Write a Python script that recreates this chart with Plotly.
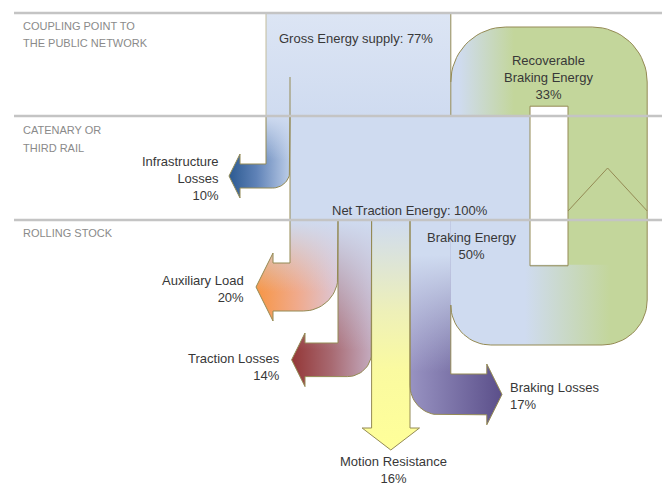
import numpy as np
import plotly.graph_objects as go

# ---------------- data ----------------
flow_names = ["Gross Energy supply", "Infrastructure Losses", "Recoverable Braking Energy",
              "Net Traction Energy", "Auxiliary Load", "Traction Losses",
              "Motion Resistance", "Braking Energy", "Braking Losses"]
flow_values = [77, 10, 33, 100, 20, 14, 16, 50, 17]
flow_label_lines = [["Gross Energy supply"], ["Infrastructure", "Losses"], ["Recoverable", "Braking Energy"],
                    ["Net Traction Energy"], ["Auxiliary Load"], ["Traction Losses"],
                    ["Motion Resistance"], ["Braking Energy"], ["Braking Losses"]]
pct_inline = [True, False, False, True, False, False, False, False, False]
section_labels = [["COUPLING POINT TO", "THE PUBLIC NETWORK"], ["CATENARY OR", "THIRD RAIL"], ["ROLLING STOCK"]]

# ---------------- geometry (pixel-like data space) ----------------
V = dict(zip(flow_names, flow_values))
K = 2.4                      # px per percent
SEP_Y = [13, 116, 220]
X_NET = 290
W = {n: V[n] * K for n in flow_names}

gx0 = X_NET - W["Infrastructure Losses"]
gx1 = gx0 + W["Gross Energy supply"]
nx1 = X_NET + W["Net Traction Energy"]
ax1 = X_NET + W["Auxiliary Load"]
tx1 = ax1 + W["Traction Losses"]
mx1 = tx1 + W["Motion Resistance"]
blx1 = mx1 + W["Braking Losses"]
hole_x0 = nx1
hole_x1 = hole_x0 + 38
rl_x1 = hole_x1 + W["Recoverable Braking Energy"]
loop_top = 27
loop_inner_top = loop_top + W["Recoverable Braking Energy"]
band_bot = 345
band_top = band_bot - W["Recoverable Braking Energy"]
R_TOP = 55
R_BR = 45
R_BL = 40

BLUE = "#cfdbf0"
GREEN = "#c3d69b"
OLIVE = "#948a54"
TXT = "#383838"
SEC = "#8a8a8a"
FONT = "Liberation Sans"


def arc(cx, cy, r, a0, a1, n=18):
    t = np.radians(np.linspace(a0, a1, n))
    return list(zip(cx + r * np.cos(t), cy + r * np.sin(t)))


fig = go.Figure()


def poly(pts, fill=None, grad=None):
    xs = [p[0] for p in pts] + [pts[0][0]]
    ys = [p[1] for p in pts] + [pts[0][1]]
    kw = dict(x=xs, y=ys, mode="lines", fill="toself", line=dict(width=0),
              hoverinfo="skip", showlegend=False)
    if grad is not None:
        kw["fillgradient"] = grad
    else:
        kw["fillcolor"] = fill
    fig.add_trace(go.Scatter(**kw))


def line(pts, color=OLIVE, width=1):
    fig.add_trace(go.Scatter(x=[p[0] for p in pts], y=[p[1] for p in pts], mode="lines",
                             line=dict(color=color, width=width), hoverinfo="skip", showlegend=False))


def hg(a, b, cs):
    return dict(type="horizontal", start=a, stop=b, colorscale=cs)


def vg(a, b, cs):
    return dict(type="vertical", start=a, stop=b, colorscale=cs)


def fade(a, b):
    return vg(a, b, [[0, "rgba(207,219,240,1)"], [1, "rgba(207,219,240,0)"]])


def bent_arrow(xl, xr, y0, ys, side, ext, e=10, hl=0.5, rr=0.72):
    wd = xr - xl
    yb = ys + wd
    r = rr * wd
    half = wd / 2 + e
    L = hl * half
    ym = ys + wd / 2
    if side == "left":
        xh = xl - ext
        pts = ([(xr, y0), (xr, yb - r)] + arc(xr - r, yb - r, r, 0, 90) +
               [(xh, yb), (xh, yb + e), (xh - L, ym), (xh, ys - e), (xh, ys), (xl, ys), (xl, y0)])
    else:
        xh = xr + ext
        pts = ([(xr, y0), (xr, ys), (xh, ys), (xh, ys - e), (xh + L, ym), (xh, yb + e), (xh, yb)] +
               arc(xl + r, yb - r, r, 90, 180) + [(xl, y0)])
    return pts


# gross supply block
poly([(gx0, SEP_Y[0]), (gx1, SEP_Y[0]), (gx1, SEP_Y[1]), (gx0, SEP_Y[1])],
     grad=vg(SEP_Y[0], SEP_Y[1], [[0, "#dce5f4"], [1, BLUE]]))
# net traction + braking energy block
poly([(X_NET, SEP_Y[1]), (nx1, SEP_Y[1]), (nx1, band_top), (mx1, band_top), (mx1, SEP_Y[2]), (X_NET, SEP_Y[2])],
     fill=BLUE)
# recoverable loop: upper part
U = ([(gx1, SEP_Y[1]), (gx1, loop_top + R_TOP)] + arc(gx1 + R_TOP, loop_top + R_TOP, R_TOP, 180, 270) +
     arc(rl_x1 - R_TOP, loop_top + R_TOP, R_TOP, 270, 360) +
     [(rl_x1, band_top), (hole_x1, band_top), (hole_x1, loop_inner_top), (hole_x0, loop_inner_top),
      (hole_x0, SEP_Y[1])])
poly(U, grad=hg(gx1, hole_x0, [[0, BLUE], [0.1, BLUE], [0.8, GREEN], [1, GREEN]]))
# recoverable loop: lower band
Lb = ([(blx1, band_top - 1), (rl_x1, band_top - 1), (rl_x1, band_bot - R_BR)] +
      arc(rl_x1 - R_BR, band_bot - R_BR, R_BR, 0, 90) + arc(blx1 + R_BL, band_bot - R_BL, R_BL, 90, 180))
poly(Lb, grad=hg(525, 625, [[0, BLUE], [0.85, GREEN], [1, GREEN]]))

# infrastructure losses arrow
infra = bent_arrow(gx0, X_NET, SEP_Y[1], 164, "left", 26)
poly(infra, grad=hg(229, X_NET, [[0, "#2c5a91"], [0.45, "#5f82b7"], [1, "#bccde8"]]))
poly(infra, grad=fade(SEP_Y[1], 160))
# auxiliary load arrow
aux = bent_arrow(X_NET, ax1, SEP_Y[2], 263, "left", 17)
poly(aux, grad=hg(257, ax1, [[0, "#f79646"], [0.5, "#f0aa8c"], [1, "#dcc6d6"]]))
poly(aux, grad=fade(SEP_Y[2], 292))
# traction losses arrow
trac = bent_arrow(ax1, tx1, SEP_Y[2], 343, "left", 33)
poly(trac, grad=hg(292, tx1, [[0, "#943737"], [0.5, "#a86a72"], [1, "#c4abbf"]]))
poly(trac, grad=fade(SEP_Y[2], 350))
# motion resistance arrow
mo = [(mx1, SEP_Y[2]), (mx1, 428), (mx1 + 9.5, 428), ((tx1 + mx1) / 2, 450), (tx1 - 9.5, 428), (tx1, 428),
      (tx1, SEP_Y[2])]
poly(mo, grad=vg(SEP_Y[2], 450, [[0, BLUE], [0.4, "#eef0b8"], [0.65, "#fafaa0"], [1, "#ffff99"]]))
# braking losses arrow
bl = bent_arrow(mx1, blx1, SEP_Y[2], 374, "right", 36)
poly(bl, grad=hg(mx1, 502, [[0, "#9893c2"], [1, "#5b4f8a"]]))
poly(bl, grad=fade(255, 372))

# ---------------- outlines ----------------
line([(gx0, SEP_Y[0]), (gx0, SEP_Y[1])], color="#c2bc9c")
line([(X_NET, 77), (X_NET, SEP_Y[2])])
line([(gx1, SEP_Y[0]), (gx1, SEP_Y[1])])
loop_out = ([(gx1, loop_top + R_TOP)] + arc(gx1 + R_TOP, loop_top + R_TOP, R_TOP, 180, 270) +
            arc(rl_x1 - R_TOP, loop_top + R_TOP, R_TOP, 270, 360) + [(rl_x1, band_bot - R_BR)] +
            arc(rl_x1 - R_BR, band_bot - R_BR, R_BR, 0, 90) + arc(blx1 + R_BL, band_bot - R_BL, R_BL, 90, 180))
line(loop_out)
line([(hole_x0, band_top), (hole_x0, loop_inner_top), (hole_x1, loop_inner_top), (hole_x1, band_top),
      (hole_x0, band_top)])
line([(hole_x1, 211), ((hole_x1 + rl_x1) / 2, 168), (rl_x1, 211)])
line(infra)
line(aux)
line(trac)
line(mo)
line([(blx1, band_bot - R_BL)] + bl[1:])

# ---------------- separators ----------------
shapes = [dict(type="line", xref="x", yref="y", x0=14, x1=662, y0=y, y1=y,
               line=dict(color="#c4c4c4", width=2.5), layer="above") for y in SEP_Y]

# ---------------- labels ----------------
label_pos = {
    "Gross Energy supply": (356, 38, "center"),
    "Infrastructure Losses": (221, 178.5, "right"),
    "Recoverable Braking Energy": (548, 77, "center"),
    "Net Traction Energy": (410, 210, "center"),
    "Auxiliary Load": (246, 288.5, "right"),
    "Traction Losses": (282, 367, "right"),
    "Motion Resistance": (393, 470, "center"),
    "Braking Energy": (471, 245.5, "center"),
    "Braking Losses": (508, 395.5, "left"),
}
ann = []
for name, val, lines_, inline in zip(flow_names, flow_values, flow_label_lines, pct_inline):
    if inline:
        text = "<br>".join(lines_) + f": {val}%"
    else:
        text = "<br>".join(lines_ + [f"{val}%"])
    x, y, anc = label_pos[name]
    ann.append(dict(x=x, y=y, xref="x", yref="y", text=text, showarrow=False, xanchor=anc, yanchor="middle",
                    align=anc, font=dict(family=FONT, size=13, color=TXT)))

sec_y = [[26, 43], [130, 148], [233]]
for lines_, ys in zip(section_labels, sec_y):
    for t, y in zip(lines_, ys):
        ann.append(dict(x=21, y=y, xref="x", yref="y", text=t, showarrow=False, xanchor="left",
                        yanchor="middle", font=dict(family=FONT, size=11, color=SEC)))

fig.update_layout(
    width=662, height=486, margin=dict(l=0, r=0, t=0, b=0),
    paper_bgcolor="white", plot_bgcolor="white", showlegend=False,
    xaxis=dict(range=[0, 662], visible=False, fixedrange=True),
    yaxis=dict(range=[486, 0], visible=False, fixedrange=True),
    shapes=shapes, annotations=ann,
)
fig.write_html("out.html", config={"displayModeBar": False},
               post_script="document.body.style.margin='0';")
